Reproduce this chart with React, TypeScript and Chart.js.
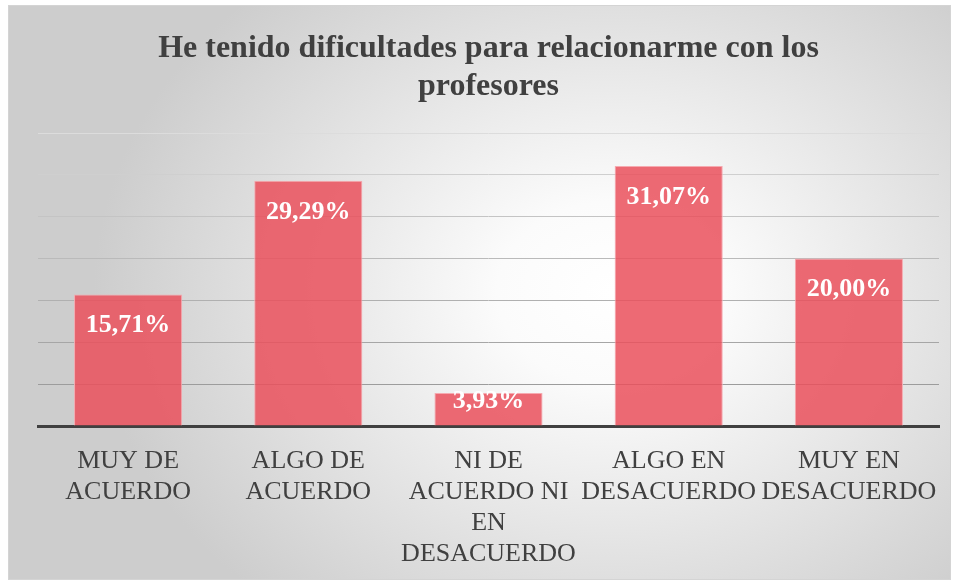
import React, { useEffect, useRef } from "react";
import { Chart, registerables } from "chart.js";

Chart.register(...registerables);

const TITLE_LINES = ["He tenido dificultades para relacionarme con los", "profesores"];
const CATEGORIES: string[][] = [
  ["MUY DE", "ACUERDO"],
  ["ALGO DE", "ACUERDO"],
  ["NI DE", "ACUERDO NI", "EN", "DESACUERDO"],
  ["ALGO EN", "DESACUERDO"],
  ["MUY EN", "DESACUERDO"],
];
const VALUES = [15.71, 29.29, 3.93, 31.07, 20.0];
const VALUE_LABELS = ["15,71%", "29,29%", "3,93%", "31,07%", "20,00%"];
const Y_MAX = 35;
const Y_STEP = 5;

const GRID_COLORS: Record<number, string> = {
  0: "rgba(0,0,0,0)",
  5: "#9c9c9c",
  10: "#a6a6a6",
  15: "#b0b0b0",
  20: "#bababa",
  25: "#c4c4c4",
  30: "#cfcfcf",
  35: "#dcdcdc",
};

const valueLabelPlugin = {
  id: "valueLabels",
  afterDatasetsDraw(chart: any) {
    const ctx = chart.ctx;
    const meta = chart.getDatasetMeta(0);
    const base = chart.scales.y.getPixelForValue(0);
    ctx.save();
    ctx.fillStyle = "#ffffff";
    ctx.font = "bold 26px 'Liberation Serif', 'Times New Roman', serif";
    ctx.textAlign = "center";
    ctx.textBaseline = "middle";
    meta.data.forEach((bar: any, i: number) => {
      const y = Math.min(bar.y + 31, base - 25);
      ctx.fillText(VALUE_LABELS[i], bar.x, y);
    });
    ctx.restore();
  },
};

export default function App() {
  const canvasRef = useRef<HTMLCanvasElement | null>(null);

  useEffect(() => {
    if (!canvasRef.current) return;
    const chart = new Chart(canvasRef.current, {
      type: "bar",
      data: {
        labels: CATEGORIES,
        datasets: [
          {
            data: VALUES,
            backgroundColor: "rgba(234, 80, 92, 0.85)",
            borderColor: "rgba(246, 170, 176, 1)",
            borderWidth: 1,
            barPercentage: 0.6,
            categoryPercentage: 1.0,
          },
        ],
      },
      options: {
        animation: false,
        responsive: false,
        maintainAspectRatio: false,
        layout: { padding: { left: 29, right: 11, top: 0, bottom: 0 } },
        plugins: {
          legend: { display: false },
          tooltip: { enabled: false },
          title: {
            display: true,
            text: TITLE_LINES,
            color: "#404040",
            font: { family: "'Liberation Serif', 'Times New Roman', serif", size: 32, weight: "bold", lineHeight: 38 / 32 },
            padding: { top: 24, bottom: 27 },
          },
        },
        scales: {
          x: {
            grid: { display: false, drawTicks: false },
            border: { display: true, color: "#404040", width: 3 },
            afterFit: (scale: any) => {
              scale.height = 153;
              scale.paddingLeft = 0;
              scale.paddingRight = 0;
            },
            ticks: {
              color: "#404040",
              font: { family: "'Liberation Serif', 'Times New Roman', serif", size: 26, lineHeight: 31 / 26 },
              padding: 20,
              maxRotation: 0,
              minRotation: 0,
              autoSkip: false,
            },
          },
          y: {
            min: 0,
            max: Y_MAX,
            ticks: { display: false, stepSize: Y_STEP },
            border: { display: false },
            grid: {
              drawTicks: false,
              lineWidth: 1,
              color: (c: any) => GRID_COLORS[c.tick?.value] ?? "#bfbfbf",
            },
          },
        },
      },
      plugins: [valueLabelPlugin],
    });
    return () => chart.destroy();
  }, []);

  return (
    <div
      style={{
        position: "absolute",
        left: 8,
        top: 5,
        width: 943,
        height: 575,
        boxSizing: "border-box",
        border: "1px solid #d4d4d4",
        background:
          "radial-gradient(ellipse 55% 72% at 64% 50%, #ffffff 0%, #fbfbfb 22%, #cdcdcd 100%)",
      }}
    >
      <canvas ref={canvasRef} width={941} height={573} style={{ display: "block" }} />
    </div>
  );
}
